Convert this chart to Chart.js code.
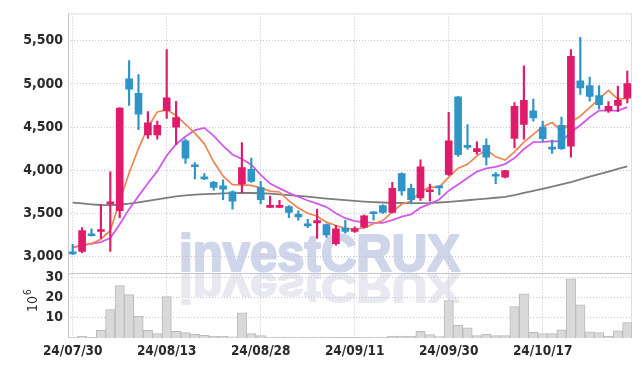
<!DOCTYPE html>
<html>
<head>
<meta charset="utf-8" />
<title>investCRUX daily chart</title>
<script src="https://cdn.jsdelivr.net/npm/chart.js@4.4.1/dist/chart.umd.min.js"></script>
<style>
    html, body { margin: 0; padding: 0; background: #fff; overflow: hidden; }
    #chartContainer { width: 642px; height: 366px; }
</style>
</head>
<body>
<div id="chartContainer">
    <canvas id="myChart" width="642" height="366"></canvas>
</div>
<script>
// trading days (YY/MM/DD)
const dates = [
    '24/07/30','24/07/31','24/08/01','24/08/02','24/08/05','24/08/06','24/08/07','24/08/08','24/08/09','24/08/12',
    '24/08/13','24/08/14','24/08/16','24/08/19','24/08/20','24/08/21','24/08/22','24/08/23','24/08/26','24/08/27',
    '24/08/28','24/08/29','24/08/30','24/09/02','24/09/03','24/09/04','24/09/05','24/09/06','24/09/09','24/09/10',
    '24/09/11','24/09/12','24/09/13','24/09/19','24/09/20','24/09/23','24/09/24','24/09/25','24/09/26','24/09/27',
    '24/09/30','24/10/02','24/10/04','24/10/07','24/10/08','24/10/10','24/10/11','24/10/14','24/10/15','24/10/16',
    '24/10/17','24/10/18','24/10/21','24/10/22','24/10/23','24/10/24','24/10/25','24/10/28','24/10/29','24/10/30'
];

const opens = [
    3045, 3060, 3255, 3290, 3610, 3530, 5060, 4890, 4410, 4410,
    4690, 4500, 4340, 4060, 3910, 3860, 3820, 3750, 3840, 4010,
    3800, 3570, 3570, 3580, 3490, 3365, 3390, 3370, 3150, 3330,
    3290, 3340, 3510, 3590, 3510, 3960, 3790, 3680, 3750, 3815,
    3950, 4850, 4280, 4215, 4290, 3945, 3920, 4370, 4530, 4690,
    4500, 4255, 4520, 4280, 5035, 4980, 4865, 4690, 4750, 4835
];
const highs = [
    3140, 3335, 3320, 3600, 3980, 4725, 5270, 5110, 4680, 4570,
    5400, 4800, 4360, 4090, 3960, 3870, 3890, 3760, 4320, 4140,
    3870, 3700, 3650, 3590, 3530, 3430, 3550, 3380, 3360, 3420,
    3345, 3480, 3520, 3600, 3860, 3970, 3840, 4120, 3840, 3820,
    4670, 4855, 4530, 4330, 4365, 3975, 4000, 4785, 5210, 4825,
    4570, 4350, 4615, 5400, 5540, 5080, 4980, 4795, 4975, 5150
];
const lows = [
    3020, 3045, 3235, 3210, 3060, 3450, 4750, 4470, 4370, 4360,
    4600, 4300, 4080, 3900, 3890, 3770, 3660, 3550, 3740, 3860,
    3610, 3565, 3565, 3450, 3420, 3335, 3210, 3220, 3130, 3270,
    3280, 3330, 3420, 3500, 3505, 3710, 3610, 3650, 3640, 3715,
    3940, 4160, 4240, 4185, 4060, 3845, 3910, 4260, 4360, 4570,
    4330, 4195, 4240, 4150, 4880, 4800, 4710, 4670, 4680, 4780
];
const closes = [
    3030, 3300, 3240, 3310, 3630, 4720, 4940, 4650, 4550, 4520,
    4840, 4610, 4140, 4040, 3900, 3800, 3780, 3640, 4030, 3870,
    3660, 3590, 3590, 3510, 3460, 3355, 3415, 3250, 3320, 3290,
    3320, 3470, 3495, 3510, 3790, 3760, 3660, 4040, 3765, 3795,
    4340, 4180, 4265, 4250, 4150, 3930, 3995, 4740, 4810, 4605,
    4365, 4245, 4250, 5320, 4955, 4855, 4760, 4740, 4810, 5005
];

// moving averages
const ma5 = [
    3107, 3130, 3149, 3200, 3302, 3640, 3968, 4250, 4498, 4676,
    4700, 4634, 4532, 4430, 4306, 4098, 3932, 3832, 3830, 3824,
    3796, 3758, 3748, 3644, 3562, 3501, 3466, 3398, 3360, 3326,
    3319, 3330, 3379, 3417, 3517, 3605, 3643, 3752, 3803, 3804,
    3920, 4024, 4069, 4166, 4237, 4155, 4118, 4213, 4325, 4416,
    4503, 4553, 4455, 4557, 4627, 4725, 4828, 4926, 4824, 4834
];
const ma10 = [
    3107, 3126, 3150, 3167, 3213, 3374, 3549, 3700, 3849, 3989,
    4170, 4301, 4391, 4464, 4491, 4399, 4283, 4182, 4130, 4065,
    3947, 3845, 3790, 3737, 3693, 3649, 3612, 3573, 3502, 3444,
    3410, 3398, 3389, 3389, 3422, 3462, 3487, 3566, 3610, 3661,
    3763, 3834, 3911, 3985, 4021, 4038, 4071, 4141, 4246, 4327,
    4329, 4336, 4334, 4441, 4522, 4614, 4691, 4691, 4691, 4731
];
const maLong = [
    3625, 3615, 3605, 3597, 3595, 3600, 3612, 3628, 3645, 3662,
    3680, 3698, 3708, 3716, 3722, 3727, 3731, 3734, 3736, 3736,
    3733, 3728, 3720, 3712, 3703, 3693, 3682, 3672, 3663, 3654,
    3645, 3637, 3631, 3626, 3622, 3620, 3619, 3619, 3621, 3626,
    3633, 3642, 3652, 3662, 3672, 3681, 3690, 3712, 3738, 3762,
    3785, 3810, 3835, 3862, 3893, 3925, 3955, 3985, 4015, 4045
];

// volume, millions of shares
const volumes = [
    0.3, 0.8, 0.2, 3.8, 14.1, 26.0, 21.5, 10.7, 3.8, 2.2,
    20.5, 3.3, 2.7, 1.8, 1.3, 1.0, 0.8, 0.6, 12.5, 2.2,
    1.2, 0.5, 0.5, 0.4, 0.3, 0.3, 0.5, 0.5, 0.2, 0.2,
    0.2, 0.3, 0.3, 0.4, 0.9, 0.9, 0.9, 3.3, 1.7, 0.7,
    18.6, 6.3, 5.1, 1.2, 1.8, 1.2, 1.2, 15.6, 21.9, 2.8,
    2.2, 2.2, 4.1, 29.3, 16.4, 3.1, 2.7, 1.0, 3.6, 7.6
];

const priceTicks = [3000, 3500, 4000, 4500, 5000, 5500];
const volumeTicks = [10, 20, 30];

const UP = '#e11a6b';
const DOWN = '#2f95c6';
const GRID = '#c3c3d3';
const FRAME = '#c6c6ce';
const FAMILY = '"Liberation Sans Narrow", "DejaVu Sans Condensed", sans-serif';
const Y_FONT = { family: FAMILY, size: 14, weight: 'bold' };
const X_FONT = { family: FAMILY, size: 13.5, weight: 'bold' };

const candleColors = closes.map((c, i) => c >= opens[i] ? UP : DOWN);

// watermark and white background, under the grid
const watermark = {
    id: 'watermark',
    beforeDraw(chart) {
        const c = chart.ctx;
        c.save();
        c.fillStyle = '#ffffff';
        c.fillRect(0, 0, chart.width, chart.height);
        c.font = 'bold 51px "Liberation Sans", Arial, sans-serif';
        c.textBaseline = 'alphabetic';
        c.textAlign = 'left';
        c.lineJoin = 'round';
        const txt = 'investCRUX';
        const sx = 281 / c.measureText(txt).width;

        c.save();
        c.translate(179, 271);
        c.scale(sx, 1);
        c.fillStyle = '#d0d6ea';
        c.strokeStyle = '#d0d6ea';
        c.lineWidth = 2.2;
        c.fillText(txt, 0, 0);
        c.strokeText(txt, 0, 0);
        c.restore();

        c.save();
        c.translate(179, 274);
        c.scale(sx, -0.8);
        c.fillStyle = '#e8e8f1';
        c.strokeStyle = '#e8e8f1';
        c.lineWidth = 2.2;
        c.fillText(txt, 0, 0);
        c.strokeText(txt, 0, 0);
        c.restore();
        c.restore();
    }
};

// panel frame, separator, and the 10^6 unit label
const frame = {
    id: 'frame',
    beforeDatasetsDraw(chart) {
        const c = chart.ctx;
        const a = chart.chartArea;
        const sep = chart.scales.yv.top;
        c.save();
        c.lineWidth = 1;
        c.strokeStyle = '#dedee4';
        c.beginPath();
        c.moveTo(a.left, a.top + 0.5); c.lineTo(a.right, a.top + 0.5);
        c.moveTo(a.right - 0.5, a.top); c.lineTo(a.right - 0.5, a.bottom);
        c.stroke();
        c.strokeStyle = FRAME;
        c.beginPath();
        c.moveTo(a.left + 0.5, a.top); c.lineTo(a.left + 0.5, a.bottom);
        c.moveTo(a.left, Math.round(sep) + 0.5); c.lineTo(a.right, Math.round(sep) + 0.5);
        c.moveTo(a.left, a.bottom - 0.5); c.lineTo(a.right, a.bottom - 0.5);
        c.stroke();
        c.restore();
    },
    afterDraw(chart) {
        const c = chart.ctx;
        c.save();
        c.fillStyle = '#333';
        c.translate(37, 312);
        c.rotate(-Math.PI / 2);
        c.textBaseline = 'alphabetic';
        c.font = '14px ' + FAMILY;
        c.fillText('10', 0, 0);
        const w = c.measureText('10').width;
        c.font = '10px ' + FAMILY;
        c.fillText('6', w + 1, -6);
        c.restore();
    }
};

function renderChart()
{
    const ctx = document.getElementById('myChart').getContext('2d');

    const config = {
        type: 'bar',
        data: {
            labels: dates,
            datasets: [
                {
                    label: 'body',
                    data: opens.map((o, i) => [o, closes[i]]),
                    yAxisID: 'y',
                    backgroundColor: candleColors,
                    barThickness: 7,
                    minBarLength: 2,
                    grouped: false,
                    order: 0
                },
                {
                    label: 'wick',
                    data: lows.map((l, i) => [l, highs[i]]),
                    yAxisID: 'y',
                    backgroundColor: candleColors,
                    barThickness: 1.5,
                    grouped: false,
                    order: 1
                },
                {
                    type: 'line', label: 'MA5', data: ma5, yAxisID: 'y',
                    borderColor: '#ef8550', borderWidth: 1.7, pointRadius: 0, tension: 0, order: 2
                },
                {
                    type: 'line', label: 'MA10', data: ma10, yAxisID: 'y',
                    borderColor: '#d259ea', borderWidth: 1.8, pointRadius: 0, tension: 0, order: 3
                },
                {
                    type: 'line', label: 'MA long', data: maLong, yAxisID: 'y',
                    borderColor: '#7d7d7d', borderWidth: 1.8, pointRadius: 0, tension: 0, order: 4
                },
                {
                    label: 'volume',
                    data: volumes,
                    yAxisID: 'yv',
                    backgroundColor: '#d9d9d9',
                    borderColor: '#bababa',
                    borderWidth: 1,
                    categoryPercentage: 1,
                    barPercentage: 1,
                    grouped: false,
                    order: 5
                }
            ]
        },
        options: {
            responsive: false,
            animation: false,
            events: [],
            layout: { padding: { top: 9, right: 10, left: 0, bottom: 0 } },
            plugins: {
                legend: { display: false },
                tooltip: { enabled: false }
            },
            scales: {
                x: {
                    type: 'category',
                    offset: true,
                    grid: {
                        offset: false,
                        drawTicks: false,
                        color: c => c.index % 10 === 0 ? GRID : 'rgba(0,0,0,0)'
                    },
                    border: { display: false, dash: [1, 2] },
                    ticks: {
                        autoSkip: false,
                        maxRotation: 0,
                        padding: 5,
                        color: '#2a2a2a',
                        font: X_FONT,
                        callback: (v, i) => i % 10 === 0 ? dates[i] : ''
                    },
                    afterFit: s => { s.height = 28; }
                },
                yv: {
                    type: 'linear',
                    position: 'left',
                    stack: 'panels',
                    stackWeight: 66,
                    min: 0,
                    max: 32.3,
                    afterBuildTicks: s => { s.ticks = volumeTicks.map(v => ({ value: v })); },
                    grid: { drawTicks: false, color: GRID },
                    border: { display: false, dash: [1, 2] },
                    ticks: { autoSkip: false, padding: 5, color: '#2a2a2a', font: Y_FONT },
                    afterFit: s => { s.width = 68; }
                },
                y: {
                    type: 'linear',
                    position: 'left',
                    stack: 'panels',
                    stackWeight: 263,
                    min: 2810,
                    max: 5818,
                    afterBuildTicks: s => { s.ticks = priceTicks.map(v => ({ value: v })); },
                    grid: { drawTicks: false, color: GRID },
                    border: { display: false, dash: [1, 2] },
                    ticks: {
                        autoSkip: false,
                        padding: 5,
                        color: '#2a2a2a',
                        font: Y_FONT,
                        callback: v => v.toLocaleString('en-US')
                    },
                    afterFit: s => { s.width = 68; }
                }
            }
        },
        plugins: [watermark, frame]
    };

    new Chart(ctx, config);
}
window.addEventListener('DOMContentLoaded', renderChart);
</script>
</body>
</html>
